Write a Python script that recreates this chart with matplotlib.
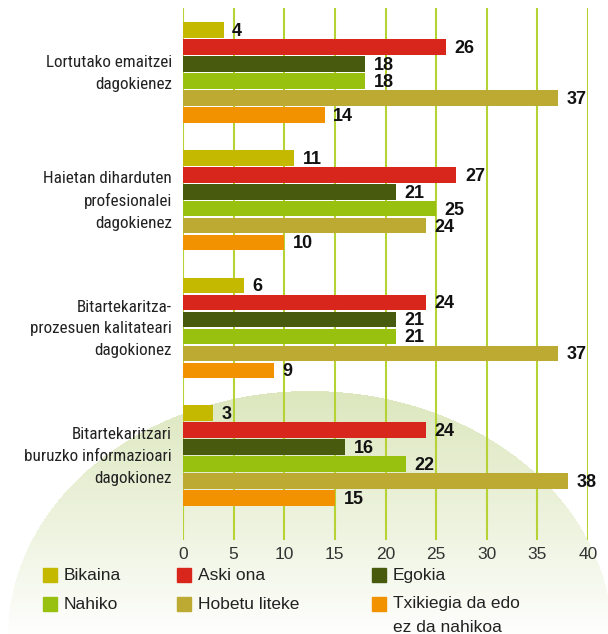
import numpy as np
import matplotlib
matplotlib.use("Agg")
import matplotlib.pyplot as plt
from matplotlib.patches import Rectangle
from matplotlib import font_manager
from matplotlib.font_manager import FontProperties

categories = ["Lortutako emaitzei\ndagokienez",
              "Haietan diharduten\nprofesionalei\ndagokienez",
              "Bitartekaritza-\nprozesuen kalitateari\ndagokionez",
              "Bitartekaritzari\nburuzko informazioari\ndagokionez"]
series_names = ["Bikaina", "Aski ona", "Egokia", "Nahiko", "Hobetu liteke",
                "Txikiegia da edo\nez da nahikoa"]
bikaina = [4, 11, 6, 3]
aski_ona = [26, 27, 24, 24]
egokia = [18, 21, 21, 16]
nahiko = [18, 25, 21, 22]
hobetu_liteke = [37, 24, 37, 38]
txikiegia = [14, 10, 9, 15]
xticks = [0, 5, 10, 15, 20, 25, 30, 35, 40]

series_values = [bikaina, aski_ona, egokia, nahiko, hobetu_liteke, txikiegia]
colors = ["#c5b900", "#d9261d", "#475a0d", "#98c10f", "#bdaa33", "#f39200"]

regular = "Liberation Sans"

# look for a condensed face for the category labels
cond_path = None
cands = []
for f in font_manager.fontManager.ttflist:
    fn = f.fname.lower().replace("-", "").replace("_", "")
    if ("narrow" in fn or "condensed" in fn) and f.style == "normal" \
            and "bold" not in fn and "italic" not in fn and "semibold" not in fn \
            and "extra" not in fn and "semicondensed" not in fn:
        cands.append(f.fname)
pref = ["liberationsansnarrow", "robotocondensed", "dejavusanscondensed",
        "opensanscondensed", "notosanscondensed"]
for p in pref:
    for c in cands:
        if p in c.lower().replace("-", "").replace("_", "").replace(" ", ""):
            cond_path = c
            break
    if cond_path:
        break
if cond_path:
    cat_fp = FontProperties(fname=cond_path, size=12.3)
else:
    cat_fp = FontProperties(family=regular, size=11)
tick_fp = FontProperties(family=regular, size=12.5)

W, H = 608, 634
fig = plt.figure(figsize=(W / 100, H / 100), dpi=100)

# background decorative ellipse with vertical gradient
ax_bg = fig.add_axes([0, 0, 1, 1], zorder=0)
ax_bg.set_xlim(0, W)
ax_bg.set_ylim(H, 0)
ax_bg.axis("off")
yy, xx = np.mgrid[0:H, 0:W] + 0.5
cx, cy, A, B = 310, 636, 302, 245
inside = ((xx - cx) / A) ** 2 + ((yy - cy) / B) ** 2 <= 1
t = np.clip((cy - yy) / B, 0, 1) ** 0.9
green = np.array([220, 231, 190]) / 255.0
img = np.ones((H, W, 4))
for k in range(3):
    img[..., k] = 1 * (1 - t) + green[k] * t
img[..., 3] = inside.astype(float)
ax_bg.imshow(img, extent=(0, W, H, 0), interpolation="bilinear", zorder=0)

# main axes
ax = fig.add_axes([183 / W, 1 - 540 / H, 405 / W, 532 / H], zorder=1)
ax.set_facecolor("none")
group_step = 7.53
for i, (vals, col) in enumerate(zip(series_values, colors)):
    ys = [g * group_step + i for g in range(len(categories))]
    ax.barh(ys, vals, height=0.92, color=col, zorder=2)
    for y, v in zip(ys, vals):
        ax.text(v + 0.85, y + 0.08, str(v), va="center", ha="left",
                fontsize=13, fontweight="bold", family=regular, color="#111111", zorder=3)

for g, cat in enumerate(categories):
    ax.text(-1.1, g * group_step + 2.55, cat, ha="right", va="center",
            fontproperties=cat_fp, color="#222222", linespacing=1.55)

ax.set_xlim(0, 40)
ax.set_ylim(3 * group_step + 5 + 2.47, -1.3)
ax.set_xticks(xticks)
ax.set_xticklabels([str(x) for x in xticks], fontproperties=tick_fp, color="#333333")
ax.set_yticks([])
ax.tick_params(axis="x", length=0, pad=5)
ax.grid(axis="x", color="#b5d334", lw=1.5, zorder=0)
ax.set_axisbelow(True)
for s in ax.spines.values():
    s.set_visible(False)

# legend
col_x = [43, 177, 372]
row_y = [568, 597]
for idx, (name, col) in enumerate(zip(series_names, colors)):
    r, c = divmod(idx, 3)
    x0, y0 = col_x[c], row_y[r]
    ax_bg.add_patch(Rectangle((x0, y0), 14, 14, color=col, zorder=2))
    if "\n" in name:
        ax_bg.text(x0 + 21, y0 - 1, name, ha="left", va="top",
                   fontsize=12.5, family=regular, color="#222222", zorder=3, linespacing=1.75)
    else:
        ax_bg.text(x0 + 21, y0 + 7.5, name, ha="left", va="center",
                   fontsize=12.5, family=regular, color="#222222", zorder=3)

fig.savefig("out.png", dpi=100)
